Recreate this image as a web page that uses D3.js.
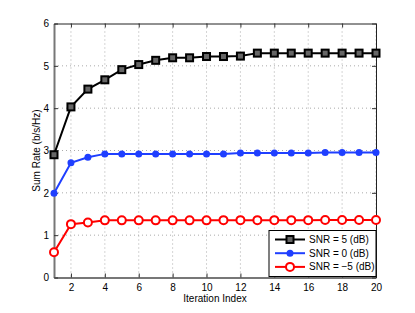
<!DOCTYPE html>
<html>
<head>
<meta charset="utf-8">
<script src="https://cdn.jsdelivr.net/npm/d3@7"></script>
<style>
  body { margin: 0; background: #fff; }
  text { font-family: "Liberation Sans", Arial, sans-serif; }
</style>
</head>
<body>
<svg id="chart" width="415" height="313"></svg>
<script>
'use strict'

const iterations = d3.range(1, 21)
const snr5 = [2.90, 4.03, 4.45, 4.67, 4.91, 5.03, 5.13, 5.19, 5.19, 5.22,
  5.22, 5.23, 5.30, 5.30, 5.30, 5.30, 5.30, 5.30, 5.30, 5.30]
const snr0 = [1.99, 2.71, 2.84, 2.92, 2.92, 2.92, 2.92, 2.92, 2.92, 2.92,
  2.92, 2.94, 2.94, 2.94, 2.94, 2.94, 2.955, 2.955, 2.955, 2.955]
const snrM5 = [0.595, 1.26, 1.30, 1.35, 1.35, 1.35, 1.35, 1.35, 1.35, 1.35,
  1.355, 1.355, 1.355, 1.355, 1.355, 1.355, 1.36, 1.36, 1.36, 1.36]
const xTicks = [2, 4, 6, 8, 10, 12, 14, 16, 18, 20]
const yTicks = [0, 1, 2, 3, 4, 5, 6]

const series = [
  { label: 'SNR = 5 (dB)', values: snr5, color: '#000', marker: 'square' },
  { label: 'SNR = 0 (dB)', values: snr0, color: '#1f3fff', marker: 'dot' },
  { label: 'SNR = \u22125 (dB)', values: snrM5, color: '#ff0000', marker: 'ring' }
]

const svg = d3.select('#chart')
const margin = { left: 54, right: 39, top: 23.5, bottom: 35.5 }
const width = 415 - margin.left - margin.right
const height = 313 - margin.top - margin.bottom

const x = d3.scaleLinear().domain([1, 20]).range([0, width])
const y = d3.scaleLinear().domain([0, 6]).range([height, 0])

const g = svg.append('g').attr('transform', `translate(${margin.left},${margin.top})`)

// dotted grid
g.append('g').selectAll('line').data(xTicks).enter().append('line')
  .attr('x1', d => x(d)).attr('x2', d => x(d))
  .attr('y1', 0).attr('y2', height)
  .attr('stroke', '#aaa').attr('stroke-width', 1).attr('stroke-dasharray', '1,3')
g.append('g').selectAll('line').data(yTicks.slice(1, -1)).enter().append('line')
  .attr('x1', 0).attr('x2', width)
  .attr('y1', d => y(d)).attr('y2', d => y(d))
  .attr('stroke', '#aaa').attr('stroke-width', 1).attr('stroke-dasharray', '1,3')

// axes, ticks pointing inward
const xAxis = g.append('g').attr('transform', `translate(0,${height})`)
  .call(d3.axisBottom(x).tickValues(xTicks).tickSizeInner(-4).tickSizeOuter(0).tickPadding(6))
const yAxis = g.append('g')
  .call(d3.axisLeft(y).tickValues(yTicks).tickFormat(d3.format('d'))
    .tickSizeInner(-4).tickSizeOuter(0).tickPadding(5))
g.append('g')
  .call(d3.axisTop(x).tickValues(xTicks).tickSizeInner(-4).tickSizeOuter(0).tickFormat(''))
g.append('g').attr('transform', `translate(${width},0)`)
  .call(d3.axisRight(y).tickValues(yTicks).tickSizeInner(-4).tickSizeOuter(0).tickFormat(''))

g.selectAll('.domain').attr('stroke', '#222').attr('stroke-width', 1)
g.selectAll('.tick line').attr('stroke', '#333')
g.selectAll('.tick text').attr('font-size', 10).attr('fill', '#000')
  .style('font-family', '"Liberation Sans", Arial, sans-serif')
xAxis.select('.domain').attr('stroke', '#777').attr('stroke-width', 2)
yAxis.select('.domain').attr('stroke', '#777').attr('stroke-width', 2)

// lines and markers
const line = d3.line().x((d, i) => x(iterations[i])).y(d => y(d))

function drawMarker (sel, s, cx, cy) {
  if (s.marker === 'square') {
    sel.append('rect').attr('x', cx - 3.5).attr('y', cy - 3.5)
      .attr('width', 7).attr('height', 7)
      .attr('fill', '#666').attr('stroke', s.color).attr('stroke-width', 2)
  } else if (s.marker === 'dot') {
    sel.append('circle').attr('cx', cx).attr('cy', cy).attr('r', 3.5)
      .attr('fill', s.color)
  } else {
    sel.append('circle').attr('cx', cx).attr('cy', cy).attr('r', 4)
      .attr('fill', '#fff').attr('stroke', s.color).attr('stroke-width', 2)
  }
}

series.forEach(s => {
  g.append('path').datum(s.values)
    .attr('d', line).attr('fill', 'none')
    .attr('stroke', s.color).attr('stroke-width', 2)
  const mg = g.append('g')
  s.values.forEach((v, i) => drawMarker(mg, s, x(iterations[i]), y(v)))
})

// legend
const lg = g.append('g').attr('transform', `translate(${x(20) - 107},${height - 47})`)
lg.append('rect').attr('width', 107).attr('height', 46)
  .attr('fill', '#fff').attr('stroke', '#000').attr('stroke-width', 1)
series.forEach((s, i) => {
  const ly = 9 + i * 13.7
  lg.append('line').attr('x1', 6).attr('x2', 36).attr('y1', ly).attr('y2', ly)
    .attr('stroke', s.color).attr('stroke-width', 2)
  drawMarker(lg, s, 21, ly)
  lg.append('text').attr('x', 40).attr('y', ly + 3.5)
    .attr('font-size', 10).text(s.label)
})

// axis labels
svg.append('text')
  .attr('x', margin.left + width / 2).attr('y', 301.5)
  .attr('text-anchor', 'middle').attr('font-size', 10)
  .text('Iteration Index')
svg.append('text')
  .attr('transform', `translate(40,${margin.top + height / 2}) rotate(-90)`)
  .attr('text-anchor', 'middle').attr('font-size', 10)
  .text('Sum Rate (b/s/Hz)')
</script>
</body>
</html>
